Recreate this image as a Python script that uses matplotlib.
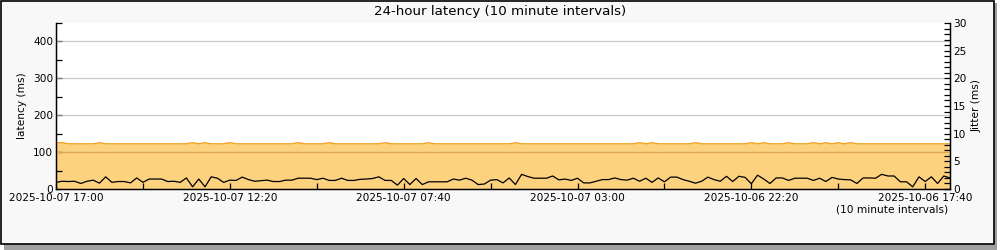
import matplotlib
matplotlib.use("Agg")
import matplotlib.pyplot as plt
from matplotlib.patches import Rectangle
import numpy as np
import pandas as pd

# 10-minute intervals, newest on the left
start_time = "2025-10-07 17:00"
n_points = 145

# latency (ms): flat ~122 with small bumps
latency_base = 122.5
bump_idx = [0, 1, 7, 22, 24, 28, 39, 44, 53, 60, 74, 94, 96, 103,
            112, 114, 118, 122, 124, 126, 128]
bump_val = 125.5

# jitter (ms)
jitter = [1.2, 1.4, 1.35, 1.4, 1.0, 1.4, 1.6, 1.05, 2.2, 1.2,
          1.35, 1.35, 1.1, 2.0, 1.2, 1.8, 1.8, 1.8, 1.35, 1.4,
          1.2, 2.0, 0.4, 1.8, 0.4, 2.2, 1.95, 1.2, 1.6, 1.55,
          2.15, 1.7, 1.4, 1.5, 1.6, 1.35, 1.35, 1.6, 1.6, 1.95,
          1.95, 1.95, 1.7, 1.95, 1.55, 1.55, 1.95, 1.55, 1.55, 1.75,
          1.8, 1.9, 2.2, 1.55, 1.55, 0.7, 1.9, 0.8, 1.9, 0.8,
          1.3, 1.3, 1.3, 1.3, 1.8, 1.6, 1.95, 1.6, 0.8, 0.9,
          1.6, 1.7, 1.1, 2.0, 0.8, 2.65, 2.25, 1.95, 1.95, 1.95,
          2.35, 1.65, 1.8, 1.55, 1.95, 1.1, 1.1, 1.4, 1.7, 1.7,
          2.0, 1.7, 1.6, 1.95, 1.4, 1.95, 1.2, 2.0, 1.3, 2.15,
          2.15, 1.7, 1.4, 1.05, 1.4, 2.15, 1.7, 1.4, 2.3, 1.35,
          2.3, 2.1, 0.95, 2.5, 1.8, 1.0, 2.0, 2.0, 1.55, 1.95,
          1.95, 1.95, 1.55, 1.95, 1.35, 2.1, 1.8, 1.7, 1.65, 1.0,
          2.0, 2.0, 1.95, 2.65, 2.35, 2.35, 1.3, 1.3, 0.4, 2.2,
          1.35, 2.2, 1.0, 2.35, 2.0]

latency = np.full(n_points, latency_base)
latency[bump_idx] = bump_val
x = np.arange(n_points)
times = pd.date_range(end=start_time, periods=n_points, freq="10min")[::-1]

font = 7.6
fig = plt.figure(figsize=(10, 2.5), dpi=100)
fig.patch.set_facecolor("white")

# framed panel with a drop shadow
fig.patches.append(Rectangle((0.004, 0.0), 0.993, 0.988, transform=fig.transFigure,
                             facecolor="#a0a0a0", edgecolor="none", zorder=-3))
fig.patches.append(Rectangle((0.0005, 0.026), 0.9935, 0.972, transform=fig.transFigure,
                             facecolor="#f8f8f8", edgecolor="black", linewidth=1.2, zorder=-2))

ax = fig.add_axes([0.056, 0.244, 0.894, 0.664])
ax.set_facecolor("white")
ax.fill_between(x, 0, latency, color="#fdd27f", linewidth=0, zorder=1)
ax.plot(x, latency, color="#f2a21e", linewidth=1.0, zorder=2)
for g in [100, 200, 300, 400]:
    ax.axhline(g, color="#b4b4b4", linewidth=0.9, alpha=0.7, zorder=3)
ax.axhline(100, color="#e0a84a", linewidth=0.9, zorder=3)

ax.set_xlim(0, 144)
ax.set_ylim(0, 450)
ax.set_yticks([0, 100, 200, 300, 400])
ax.set_yticks(np.arange(50, 451, 100), minor=True)
tick_pos = np.arange(0, 141, 28)
ax.set_xticks(tick_pos)
ax.set_xticklabels([times[i].strftime("%Y-%m-%d %H:%M") for i in tick_pos])
ax.set_xticks(np.arange(14, 141, 28), minor=True)
ax.tick_params(axis="both", which="both", direction="in", labelsize=font,
               length=4, width=0.9, pad=2)
ax.tick_params(axis="x", which="major", pad=3)
ax.set_ylabel("latency (ms)", fontsize=font, labelpad=4)
ax.spines["top"].set_visible(False)
for s in ["left", "bottom", "right"]:
    ax.spines[s].set_linewidth(1.0)

ax2 = ax.twinx()
ax2.plot(x, jitter, color="black", linewidth=0.9, zorder=4)
ax2.set_ylim(0, 30)
ax2.set_yticks(np.arange(0, 31, 5))
ax2.set_yticks(np.arange(0, 31, 1), minor=True)
ax2.tick_params(axis="y", which="both", direction="in", labelsize=font,
                length=4, width=0.9, pad=2)
ax2.set_ylabel("Jitter (ms)", fontsize=font, labelpad=4)
ax2.spines["top"].set_visible(False)

fig.text(0.5, 0.956, "24-hour latency (10 minute intervals)", fontsize=9.6,
         ha="center", va="center")
fig.text(0.948, 0.163, "(10 minute intervals)", fontsize=font, ha="right", va="center")

fig.savefig("out.png", dpi=100)
